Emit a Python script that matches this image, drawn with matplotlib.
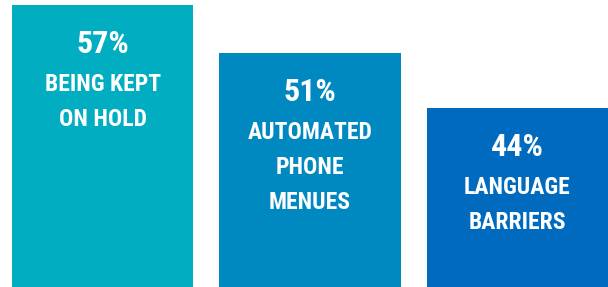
import matplotlib
matplotlib.use('Agg')
import matplotlib.pyplot as plt

# Data
categories = ['BEING KEPT\nON HOLD', 'AUTOMATED\nPHONE\nMENUES', 'LANGUAGE\nBARRIERS']
values = [57, 51, 44]
colors = ['#00ADC1', '#0089C0', '#006BBE']

fig = plt.figure(figsize=(6.08, 2.87), dpi=100)
ax = fig.add_axes([0, 0, 1, 1])

x = range(len(values))
ax.bar(x, values, width=0.874, color=colors)

# condensed bold font, closest available to the original
font = ['Roboto Condensed', 'Roboto', 'DejaVu Sans']
for i, v in enumerate(values):
    ax.annotate(f'{v}%', xy=(i, v), xytext=(0, -48), textcoords='offset pixels',
                ha='center', va='baseline', color='white', fontsize=23,
                fontweight='bold', family=font, fontstretch='condensed')
    for j, line in enumerate(categories[i].split('\n')):
        ax.annotate(line, xy=(i, v), xytext=(0, -86 - 35 * j), textcoords='offset pixels',
                    ha='center', va='baseline', color='white', fontsize=17,
                    fontweight='bold', family=font, fontstretch='condensed')

ax.set_xlim(-0.495, 2.437)
ax.set_ylim(21.5, 57.63)
ax.axis('off')

plt.savefig('out.png', dpi=100)
